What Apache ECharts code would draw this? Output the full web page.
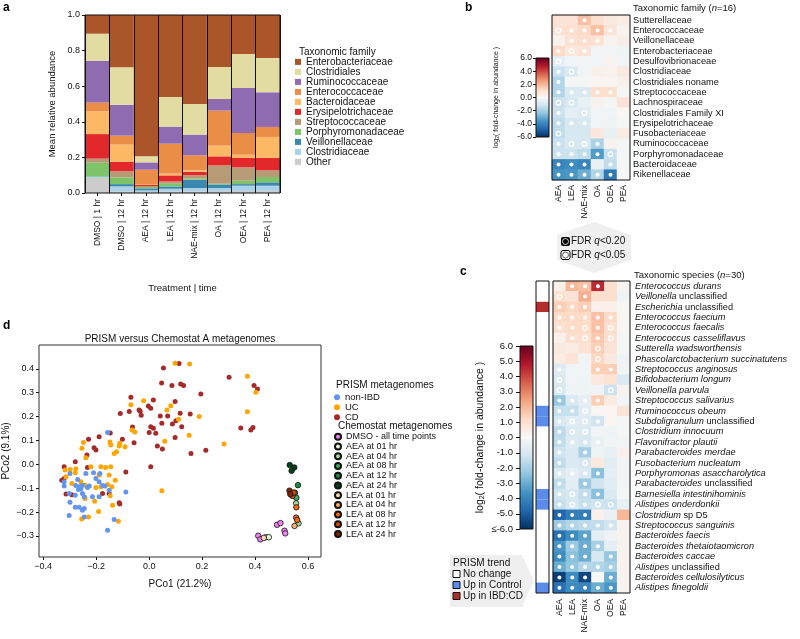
<!DOCTYPE html>
<html><head><meta charset="utf-8">
<script src="https://cdn.jsdelivr.net/npm/echarts@6/dist/echarts.min.js"></script>
<style>html,body{margin:0;padding:0;background:#fff}#c{width:800px;height:639px}</style>
</head><body><div id="c"></div>
<script>
const FONT = '"Liberation Sans", Arial, Helvetica, sans-serif';

// ---------- Panel a data ----------
const aCategories = ['DMSO | 1 hr','DMSO | 12 hr','AEA | 12 hr','LEA | 12 hr','NAE-mix | 12 hr','OA | 12 hr','OEA | 12 hr','PEA | 12 hr'];
const aFamilies = ['Enterobacteriaceae','Clostridiales','Ruminococcaceae','Enterococcaceae','Bacteroidaceae','Erysipelotrichaceae','Streptococcaceae','Porphyromonadaceae','Veillonellaceae','Clostridiaceae','Other'];
const aEnterobacteriaceae = [0.105,0.294,0.794,0.461,0.500,0.292,0.219,0.242];
const aClostridiales      = [0.152,0.210,0.034,0.166,0.172,0.180,0.191,0.192];
const aRuminococcaceae    = [0.234,0.174,0.041,0.096,0.116,0.065,0.253,0.195];
const aEnterococcaceae    = [0.050,0.050,0.084,0.168,0.084,0.197,0.122,0.056];
const aBacteroidaceae     = [0.128,0.096,0.002,0.010,0.008,0.060,0.018,0.118];
const aErysipelotrichaceae= [0.138,0.054,0.008,0.034,0.020,0.051,0.053,0.070];
const aStreptococcaceae   = [0.023,0.034,0.003,0.013,0.020,0.103,0.075,0.037];
const aPorphyromonadaceae = [0.078,0.038,0.008,0.015,0.005,0.004,0.019,0.030];
const aVeillonellaceae    = [0.002,0.013,0.011,0.013,0.047,0.020,0.009,0.019];
const aClostridiaceae     = [0.005,0.027,0.010,0.014,0.018,0.016,0.029,0.029];
const aOther              = [0.085,0.010,0.005,0.010,0.010,0.012,0.012,0.012];
const aColors = ['#ab552b','#e2dca2','#8f6bb2','#ea8e47','#fdb866','#e3282c','#b79a76','#7cc467','#3a88ad','#a9d1e9','#cccccc'];

// ---------- Panel b data ----------
const bColumns = ['AEA','LEA','NAE-mix','OA','OEA','PEA'];
const bFamilies = ['Sutterellaceae','Enterococcaceae','Veillonellaceae','Enterobacteriaceae','Desulfovibrionaceae','Clostridiaceae','Clostridiales noname','Streptococcaceae','Lachnospiraceae','Clostridiales Family XI','Erysipelotrichaceae','Fusobacteriaceae','Ruminococcaceae','Porphyromonadaceae','Bacteroidaceae','Rikenellaceae'];
const bFoldChange = [
 [0.8,0.8,1.8,1.0,0.6,0.5],
 [0.8,1.0,1.2,1.8,0.8,0.2],
 [0.2,0.9,1.1,0.9,0.2,0.4],
 [1.2,0.7,0.8,-0.2,-0.2,-0.3],
 [-0.6,-0.2,-0.2,-0.2,0.2,-0.2],
 [-1.3,-0.9,-0.2,0.3,0.2,0.6],
 [-1.8,-0.1,-0.1,0.1,0.1,0.3],
 [-1.8,-0.9,-0.9,1.0,1.0,-0.1],
 [-1.3,-1.0,-0.5,0.2,-0.1,0.8],
 [-1.3,-0.6,-0.8,-0.2,-0.2,0.1],
 [-1.5,-1.0,-1.0,-0.2,-0.3,-0.1],
 [-1.5,-1.0,-1.0,0.7,-0.5,0.5],
 [-1.3,-1.0,-1.0,-1.9,0.2,-0.1],
 [-1.3,-1.3,-1.5,-3.4,-1.4,-0.1],
 [-4.0,-3.8,-4.0,-0.4,-1.5,-0.1],
 [-3.6,-3.5,-3.0,-1.8,-4.3,0.0]
];
// 1 = FDR q<0.20 (filled dot), 2 = FDR q<0.05 (ring)
const bSignificance = [
 [0,0,1,0,0,0],[2,1,1,1,1,0],[0,1,1,1,0,0],[1,2,1,0,0,0],
 [2,0,0,0,0,0],[1,2,0,0,0,0],[1,0,0,0,0,0],[1,1,1,1,1,0],
 [2,2,0,0,0,0],[1,0,2,0,0,0],[1,1,1,0,0,0],[2,0,0,0,0,0],
 [1,2,2,1,0,0],[1,1,1,1,2,0],[1,1,1,0,1,0],[1,1,1,1,1,0]
];

// ---------- Panel c data ----------
const cSpecies = ['Enterococcus durans','Veillonella unclassified','Escherichia unclassified','Enterococcus faecium','Enterococcus faecalis','Enterococcus casseliflavus','Sutterella wadsworthensis','Phascolarctobacterium succinatutens','Streptococcus anginosus','Bifidobacterium longum','Veillonella parvula','Streptococcus salivarius','Ruminococcus obeum','Subdoligranulum unclassified','Clostridium innocuum','Flavonifractor plautii','Parabacteroides merdae','Fusobacterium nucleatum','Porphyromonas asaccharolytica','Parabacteroides unclassified','Barnesiella intestinihominis','Alistipes onderdonkii','Clostridium sp D5','Streptococcus sanguinis','Bacteroides faecis','Bacteroides thetaiotaomicron','Bacteroides caccae','Alistipes unclassified','Bacteroides cellulosilyticus','Alistipes finegoldii'];
const cFoldChange = [
 [0.3,2.0,1.8,4.5,1.0,0.2],
 [1.0,0.8,2.2,1.0,1.0,-0.3],
 [1.5,1.3,1.5,0.3,0.3,0.1],
 [1.2,1.2,1.2,1.8,1.2,0.1],
 [1.0,1.2,1.2,1.8,1.0,0.1],
 [0.3,1.0,1.0,1.6,1.0,-0.1],
 [0.6,0.5,0.9,1.5,0.8,-0.1],
 [0.5,0.8,-0.2,1.3,0.6,-0.3],
 [-0.8,-0.2,-0.2,1.5,1.5,-0.2],
 [-0.9,-0.2,-0.3,0.6,0.9,-0.9],
 [-0.9,-0.3,-0.3,-0.2,-1.3,0.2],
 [-2.3,-0.9,-0.6,1.5,0.5,-0.2],
 [-1.4,-1.4,-0.7,0.1,0.1,0.8],
 [-1.0,-0.7,-0.8,-1.2,0.1,-0.1],
 [-1.6,-0.9,-0.9,-0.2,-0.3,-0.1],
 [-1.5,-0.8,-1.0,-0.4,-0.2,-0.2],
 [-1.2,-0.9,-2.0,-0.3,-0.5,0.3],
 [-1.5,-0.9,-1.0,0.6,-0.7,-0.2],
 [-0.9,-0.6,-0.9,-2.5,-0.6,-0.2],
 [-1.5,-0.6,-2.2,-1.2,-0.7,-0.2],
 [-1.2,-1.0,-1.5,-2.5,-0.9,-0.1],
 [-1.4,-1.0,-1.4,-1.2,-1.3,-0.5],
 [-4.8,-4.2,-4.2,0.3,-0.4,2.0],
 [-2.2,-1.8,-1.6,-1.5,-1.2,0.2],
 [-4.5,-3.8,-3.2,-0.6,-0.3,0.2],
 [-3.5,-2.2,-3.0,-2.0,-0.6,0.2],
 [-3.8,-2.5,-3.0,-1.0,-2.3,0.2],
 [-3.0,-2.4,-1.8,-1.8,-2.0,0.2],
 [-5.7,-3.8,-5.5,0.0,-3.0,0.2],
 [-4.5,-3.8,-4.0,-3.0,-3.5,0.2]
];
const cSignificance = [
 [0,1,1,1,0,0],[2,0,1,0,0,0],[1,1,1,0,0,0],[1,1,1,1,1,0],[1,1,2,1,2,0],
 [0,1,2,1,2,0],[0,0,0,2,0,0],[0,0,0,2,0,0],[1,0,0,1,1,0],[2,0,0,0,0,0],
 [2,0,0,0,2,0],[1,1,1,1,0,0],[1,1,2,0,0,0],[1,2,2,1,0,0],[1,2,2,0,0,0],
 [1,1,1,1,0,0],[1,0,1,0,0,0],[1,0,2,0,0,0],[1,1,1,1,0,0],[1,0,1,0,0,0],
 [1,2,1,1,0,0],[1,2,1,2,2,0],[1,1,1,0,0,0],[1,1,1,1,1,0],[1,1,1,0,0,0],
 [1,1,1,1,0,0],[1,1,1,0,1,0],[1,1,1,1,1,0],[1,1,1,0,1,0],[1,1,1,1,1,0]
];
// 0 = No change, 1 = Up in Control, 2 = Up in IBD:CD
const cTrend = [0,0,2,0,0,0,0,0,0,0,0,0,1,1,0,0,0,0,0,0,1,1,0,0,0,0,0,0,0,1];
const trendNames = ['No change','Up in Control','Up in IBD:CD'];
const trendColors = ['#ffffff','#5b8cec','#b32d2d'];

// ---------- Panel d data (PCo1, PCo2) ----------
const dNonIBD = [[-0.157,0.133],[-0.299,-0.038],[-0.270,-0.063],[-0.239,-0.038],[-0.210,-0.035],[-0.186,-0.038],[-0.201,-0.059],[-0.321,-0.073],[-0.321,-0.091],[-0.277,-0.088],[-0.264,-0.094],[-0.258,-0.102],[-0.252,-0.087],[-0.233,-0.097],[-0.226,-0.091],[-0.176,-0.088],[-0.167,-0.091],[-0.151,-0.108],[-0.302,-0.122],[-0.279,-0.129],[-0.252,-0.122],[-0.245,-0.136],[-0.214,-0.136],[-0.189,-0.136],[-0.299,-0.159],[-0.279,-0.180],[-0.264,-0.180],[-0.252,-0.192],[-0.245,-0.185],[-0.302,-0.214],[-0.245,-0.220],[-0.132,-0.231],[-0.157,-0.276],[-0.088,-0.116],[-0.267,-0.105],[-0.189,-0.073]];
const dUC = [[0.098,0.424],[0.153,0.420],[0.371,0.369],[0.403,0.302],[0.371,0.220],[-0.021,0.267],[-0.069,0.250],[0.082,0.246],[0.067,0.228],[0.111,0.189],[0.189,0.200],[-0.065,0.144],[-0.054,0.136],[-0.091,0.074],[-0.113,0.077],[-0.132,0.046],[-0.123,0.053],[-0.148,0.094],[-0.145,0.081],[-0.111,0.088],[0.059,0.097],[0.151,0.122],[0.283,0.085],[-0.248,0.092],[-0.254,0.067],[-0.239,0.028],[-0.277,-0.018],[-0.220,-0.010],[-0.182,-0.010],[-0.164,-0.013],[-0.145,-0.010],[-0.189,-0.045],[-0.151,-0.045],[-0.128,-0.066],[-0.317,-0.024],[-0.298,-0.021],[-0.279,-0.035],[-0.314,-0.052],[-0.292,-0.080],[-0.258,-0.073],[-0.201,-0.097],[-0.182,-0.094],[-0.157,-0.084],[-0.141,-0.094],[-0.206,-0.154],[-0.147,-0.131],[-0.138,-0.171],[-0.191,-0.197],[-0.229,-0.220],[-0.255,-0.229],[-0.116,-0.238],[0.048,-0.110],[-0.242,-0.087],[-0.242,-0.143]];
const dCD = [[0.113,0.422],[0.054,0.404],[0.047,0.341],[0.086,0.330],[0.119,0.337],[0.130,0.330],[0.302,0.365],[0.396,0.330],[0.409,0.316],[0.195,0.295],[-0.069,0.281],[0.016,0.270],[-0.003,0.245],[0.006,0.235],[-0.038,0.228],[-0.034,0.222],[-0.030,0.206],[-0.075,0.221],[-0.109,0.213],[0.098,0.263],[0.042,0.203],[0.070,0.203],[0.117,0.214],[0.155,0.211],[0.101,0.183],[0.123,0.158],[0.048,0.172],[0.088,0.169],[0.346,0.152],[0.384,0.144],[0.392,0.154],[0.006,0.158],[0.016,0.151],[0.000,0.134],[0.025,0.130],[-0.063,0.157],[-0.147,0.131],[-0.189,0.116],[-0.229,0.105],[-0.101,0.105],[-0.057,0.091],[0.098,0.113],[0.031,0.077],[0.050,0.064],[0.214,0.059],[0.158,0.046],[-0.208,0.070],[-0.201,0.060],[-0.235,0.039],[-0.279,0.011],[-0.233,-0.013],[-0.088,-0.032],[0.006,-0.010],[-0.321,-0.010],[-0.330,-0.066],[-0.321,-0.059],[-0.151,-0.122],[-0.176,-0.122],[-0.113,-0.161],[-0.111,-0.166],[-0.314,-0.124],[-0.292,-0.127]];
const dDMSO  = [[0.483,-0.253],[0.496,-0.246],[0.412,-0.299],[0.420,-0.314],[0.511,-0.278],[0.514,-0.289]];
const dAEA01 = [[0.441,-0.305],[0.452,-0.305]];
const dAEA04 = [[0.555,-0.163],[0.564,-0.247]];
const dAEA08 = [[0.551,-0.119],[0.556,-0.140]];
const dAEA12 = [[0.562,-0.087]];
const dAEA24 = [[0.531,-0.003],[0.548,-0.013],[0.538,-0.027]];
const dLEA01 = [[0.433,-0.308]];
const dLEA04 = [[0.549,-0.258]];
const dLEA08 = [[0.556,-0.180],[0.555,-0.223],[0.559,-0.233]];
const dLEA12 = [[0.541,-0.132],[0.546,-0.118]];
const dLEA24 = [[0.530,-0.110],[0.533,-0.125]];
const dPrismNames = ['non-IBD','UC','CD'];
const dPrismColors = ['#6495ed','#ffa500','#a52a2a'];
const dChemoNames = ['DMSO - all time points','AEA at 01 hr','AEA at 04 hr','AEA at 08 hr','AEA at 12 hr','AEA at 24 hr','LEA at 01 hr','LEA at 04 hr','LEA at 08 hr','LEA at 12 hr','LEA at 24 hr'];
const dChemoColors = ['#ee82ee','#e5f5e0','#a1d99b','#41ab5d','#238b45','#00441b','#fdd9b4','#fdae6b','#f16913','#d94801','#7f2704'];
const dXTicks = [-0.4,-0.2,0,0.2,0.4,0.6];
const dYTicks = [-0.3,-0.2,-0.1,0,0.1,0.2,0.3,0.4];

const RDBU = ['#053061','#2166ac','#4393c3','#92c5de','#d1e5f0','#f7f7f7','#fddbc7','#f4a582','#d6604d','#b2182b','#67001f'];

// ---------- build ----------
const chart = echarts.init(document.getElementById('c'));
const aSeriesData = [aEnterobacteriaceae,aClostridiales,aRuminococcaceae,aEnterococcaceae,aBacteroidaceae,aErysipelotrichaceae,aStreptococcaceae,aPorphyromonadaceae,aVeillonellaceae,aClostridiaceae,aOther];

function toCells(m){const o=[];m.forEach((row,r)=>row.forEach((v,c)=>o.push([c,r,v])));return o;}
function sigPts(m,l){const o=[];m.forEach((row,r)=>row.forEach((s,c)=>{if(s===l)o.push([c,r]);}));return o;}
function speciesLabel(s){const m=s.match(/^(.*?) (unclassified|sp D5)$/);if(m)return '{i|'+m[1]+'} {r|'+m[2]+'}';return '{i|'+s+'}';}

const series = [];
for (let k = aFamilies.length-1; k >= 0; k--) {
  series.push({name:aFamilies[k], type:'bar', stack:'a', xAxisIndex:0, yAxisIndex:0, data:aSeriesData[k],
    barCategoryGap:'0%', itemStyle:{color:aColors[k]}, emphasis:{disabled:true}});
}
const heatB = series.length;
series.push({type:'heatmap', xAxisIndex:1, yAxisIndex:1, data:toCells(bFoldChange), emphasis:{disabled:true}});
series.push({type:'scatter', xAxisIndex:1, yAxisIndex:1, data:sigPts(bSignificance,1), symbolSize:4, itemStyle:{color:'#fff', opacity:1}, z:5, silent:true});
series.push({type:'scatter', xAxisIndex:1, yAxisIndex:1, data:sigPts(bSignificance,2), symbolSize:4.5, itemStyle:{color:'rgba(0,0,0,0)', borderColor:'#fff', borderWidth:1.2, opacity:1}, z:5, silent:true});
function gradPos(){return new echarts.graphic.LinearGradient(0,0,0,1,[{offset:0,color:RDBU[10]},{offset:0.2,color:RDBU[9]},{offset:0.4,color:RDBU[8]},{offset:0.6,color:RDBU[7]},{offset:0.8,color:RDBU[6]},{offset:1,color:RDBU[5]}]);}
function gradNeg(){return new echarts.graphic.LinearGradient(0,0,0,1,[{offset:0,color:RDBU[5]},{offset:0.2,color:RDBU[4]},{offset:0.4,color:RDBU[3]},{offset:0.6,color:RDBU[2]},{offset:0.8,color:RDBU[1]},{offset:1,color:RDBU[0]}]);}
series.push({type:'bar', stack:'cb1', xAxisIndex:2, yAxisIndex:2, data:[6], barWidth:'100%', itemStyle:{color:gradPos()}, silent:true});
series.push({type:'bar', stack:'cb1', xAxisIndex:2, yAxisIndex:2, data:[-6], barWidth:'100%', itemStyle:{color:gradNeg()}, silent:true});
const heatC = series.length;
series.push({type:'heatmap', xAxisIndex:3, yAxisIndex:3, data:toCells(cFoldChange), emphasis:{disabled:true}});
series.push({type:'scatter', xAxisIndex:3, yAxisIndex:3, data:sigPts(cSignificance,1), symbolSize:4, itemStyle:{color:'#fff', opacity:1}, z:5, silent:true});
series.push({type:'scatter', xAxisIndex:3, yAxisIndex:3, data:sigPts(cSignificance,2), symbolSize:4.5, itemStyle:{color:'rgba(0,0,0,0)', borderColor:'#fff', borderWidth:1.2, opacity:1}, z:5, silent:true});
series.push({type:'bar', xAxisIndex:4, yAxisIndex:4, barWidth:'100%', silent:true,
  data:cTrend.map(t=>({value:1, itemStyle:{color:trendColors[t]}}))});
series.push({type:'bar', stack:'cb2', xAxisIndex:5, yAxisIndex:5, data:[6], barWidth:'100%', itemStyle:{color:gradPos()}, silent:true});
series.push({type:'bar', stack:'cb2', xAxisIndex:5, yAxisIndex:5, data:[-6], barWidth:'100%', itemStyle:{color:gradNeg()}, silent:true});
const dPrismData = [dNonIBD, dUC, dCD];
[2,1,0].forEach(i=>series.push({name:dPrismNames[i], type:'scatter', xAxisIndex:6, yAxisIndex:6, data:dPrismData[i], symbolSize:5, itemStyle:{color:dPrismColors[i], opacity:1}}));
const dChemoData = [dDMSO,dAEA01,dAEA04,dAEA08,dAEA12,dAEA24,dLEA01,dLEA04,dLEA08,dLEA12,dLEA24];
dChemoData.forEach((d,i)=>series.push({name:dChemoNames[i], type:'scatter', xAxisIndex:6, yAxisIndex:6, data:d, symbolSize:5.5, itemStyle:{color:dChemoColors[i], borderColor:'#111', borderWidth:0.8, opacity:1}}));

const frame = {show:true, borderColor:'#111', borderWidth:1, backgroundColor:'transparent', z:10};
const tickStyle = {lineStyle:{color:'#111', width:1}};
const lbl = {color:'#111', fontFamily:FONT};

const option = {
  animation:false,
  textStyle:{fontFamily:FONT, color:'#111'},
  grid:[
    Object.assign({left:85, top:15, width:195, height:178}, frame),
    Object.assign({left:552, top:15, width:78, height:165}, frame),
    Object.assign({left:536, top:58, width:13, height:79}, frame),
    Object.assign({left:553, top:281, width:77, height:312}, frame),
    Object.assign({left:536, top:281, width:13, height:312}, frame),
    Object.assign({left:520, top:346, width:13, height:183}, frame),
    Object.assign({left:39, top:345, width:282, height:212}, frame, {borderColor:'#333'})
  ],
  visualMap:{type:'continuous', min:-6, max:6, show:false, seriesIndex:[heatB, heatC], inRange:{color:RDBU}},
  xAxis:[
    {gridIndex:0, type:'category', data:aCategories, z:10, axisLine:{show:false, onZero:false},
      axisTick:Object.assign({show:true, alignWithLabel:true, length:3}, tickStyle),
      splitLine:{show:true, lineStyle:{color:'#111', width:1}},
      axisLabel:Object.assign({rotate:90, fontSize:8.5, margin:6, interval:0}, lbl),
      name:'Treatment | time', nameLocation:'middle', nameGap:90, nameTextStyle:Object.assign({fontSize:9.5}, lbl)},
    {gridIndex:1, type:'category', data:bColumns, axisLine:{show:false}, axisTick:{show:false},
      axisLabel:Object.assign({rotate:90, fontSize:8.5, margin:5, interval:0}, lbl)},
    {gridIndex:2, type:'category', data:['cb'], show:false},
    {gridIndex:3, type:'category', data:bColumns, axisLine:{show:false}, axisTick:{show:false},
      axisLabel:Object.assign({rotate:90, fontSize:8.5, margin:6, interval:0}, lbl)},
    {gridIndex:4, type:'value', min:0, max:1, show:false},
    {gridIndex:5, type:'category', data:['cb'], show:false},
    {gridIndex:6, type:'value', min:-0.416, max:0.649, axisLine:{show:false, onZero:false}, splitLine:{show:false},
      axisTick:Object.assign({show:true, length:3, customValues:dXTicks}, tickStyle),
      axisLabel:Object.assign({fontSize:9, margin:5, customValues:dXTicks, formatter:v=>(v<0?'\u2212':'')+Math.abs(v).toFixed(1)}, lbl),
      name:'PCo1 (21.2%)', nameLocation:'middle', nameGap:22, nameTextStyle:Object.assign({fontSize:10}, lbl)}
  ],
  yAxis:[
    {gridIndex:0, type:'value', min:0, max:1, interval:0.2, z:10, axisLine:{show:false, onZero:false}, splitLine:{show:false},
      axisTick:Object.assign({show:true, length:3}, tickStyle),
      axisLabel:Object.assign({fontSize:9, margin:5, formatter:v=>v.toFixed(1)}, lbl),
      name:'Mean relative abundance', nameLocation:'middle', nameGap:28, nameTextStyle:Object.assign({fontSize:9.5}, lbl)},
    {gridIndex:1, type:'category', data:bFamilies, inverse:true, position:'right', axisLine:{show:false}, axisTick:{show:false},
      axisLabel:Object.assign({fontSize:9.2, margin:3, interval:0}, lbl)},
    {gridIndex:2, type:'value', min:-6, max:6, interval:2, position:'left', axisLine:{show:false, onZero:false}, splitLine:{show:false},
      axisTick:Object.assign({show:true, length:3}, tickStyle),
      axisLabel:Object.assign({fontSize:8.5, margin:4, formatter:v=>v.toFixed(1)}, lbl),
      name:'{n|log}{s|2}{n|( fold-change in abundance )}', nameLocation:'middle', nameGap:36,
      nameTextStyle:{rich:{n:{fontSize:7, fontFamily:FONT, color:'#111'}, s:{fontSize:5, fontFamily:FONT, color:'#111', verticalAlign:'bottom', padding:[3,0,0,0]}}}},
    {gridIndex:3, type:'category', data:cSpecies, inverse:true, position:'right', axisLine:{show:false}, axisTick:{show:false},
      axisLabel:Object.assign({fontSize:9.2, margin:5, interval:0, formatter:v=>speciesLabel(v),
        rich:{i:{fontStyle:'italic', fontSize:9.2, fontFamily:FONT, color:'#111'}, r:{fontSize:9.2, fontFamily:FONT, color:'#111'}}}, lbl)},
    {gridIndex:4, type:'category', data:cSpecies, inverse:true, show:false},
    {gridIndex:5, type:'value', min:-6, max:6, interval:1, position:'left', axisLine:{show:false, onZero:false}, splitLine:{show:false},
      axisTick:Object.assign({show:true, length:4}, tickStyle),
      axisLabel:Object.assign({fontSize:9.5, margin:7, formatter:v=>v===-6?'\u2264-6.0':v.toFixed(1)}, lbl),
      name:'{n|log}{s|2}{n|( fold-change in abundance )}', nameLocation:'middle', nameGap:34,
      nameTextStyle:{rich:{n:{fontSize:10.5, fontFamily:FONT, color:'#111'}, s:{fontSize:7, fontFamily:FONT, color:'#111', verticalAlign:'bottom', padding:[4,0,0,0]}}}},
    {gridIndex:6, type:'value', min:-0.388, max:0.5, axisLine:{show:false, onZero:false}, splitLine:{show:false},
      axisTick:Object.assign({show:true, length:3, customValues:dYTicks}, tickStyle),
      axisLabel:Object.assign({fontSize:9, margin:5, customValues:dYTicks, formatter:v=>(v<0?'\u2212':'')+Math.abs(v).toFixed(1)}, lbl),
      name:'PCo2 (9.1%)', nameLocation:'middle', nameGap:28, nameTextStyle:Object.assign({fontSize:10}, lbl)}
  ],
  legend:[
    {data:aFamilies, orient:'vertical', left:295, top:56.9, padding:0, itemGap:0, itemWidth:6, itemHeight:6, icon:'rect', selectedMode:false,
      textStyle:{fontSize:10, lineHeight:9.7, color:'#111', fontFamily:FONT}},
    {data:dPrismNames, orient:'vertical', left:334, top:392.2, padding:0, itemGap:0, itemWidth:6, itemHeight:6, icon:'circle', selectedMode:false,
      textStyle:{fontSize:9.5, lineHeight:9, color:'#111', fontFamily:FONT}},
    {data:dChemoNames, orient:'vertical', left:334, top:431.9, padding:0, itemGap:0, itemWidth:6, itemHeight:6, icon:'circle', selectedMode:false,
      textStyle:{fontSize:9, lineHeight:9.73, color:'#111', fontFamily:FONT}}
  ],
  graphic:[
    {type:'text', left:3, top:2, style:{text:'a', fontSize:12, fontWeight:'bold', fontFamily:FONT, fill:'#000'}},
    {type:'text', left:465, top:2, style:{text:'b', fontSize:12, fontWeight:'bold', fontFamily:FONT, fill:'#000'}},
    {type:'text', left:460, top:266, style:{text:'c', fontSize:12, fontWeight:'bold', fontFamily:FONT, fill:'#000'}},
    {type:'text', left:3, top:320, style:{text:'d', fontSize:12, fontWeight:'bold', fontFamily:FONT, fill:'#000'}},
    {type:'text', x:299, y:52, style:{text:'Taxonomic family', fontSize:10, fontFamily:FONT, fill:'#111', verticalAlign:'middle'}},
    {type:'text', x:633, y:8, style:{text:'{r|Taxonomic family (}{i|n}{r|=16)}', verticalAlign:'middle',
      rich:{r:{fontSize:9.5, fontFamily:FONT, fill:'#111'}, i:{fontSize:9.5, fontStyle:'italic', fontFamily:FONT, fill:'#111'}}}},
    {type:'text', x:634, y:275, style:{text:'{r|Taxonomic species (}{i|n}{r|=30)}', verticalAlign:'middle',
      rich:{r:{fontSize:9.5, fontFamily:FONT, fill:'#111'}, i:{fontSize:9.5, fontStyle:'italic', fontFamily:FONT, fill:'#111'}}}},
    {type:'text', x:180, y:339, style:{text:'PRISM versus Chemostat A metagenomes', align:'center', verticalAlign:'middle', fontSize:10, fontFamily:FONT, fill:'#111'}},
    {type:'text', x:336, y:385, style:{text:'PRISM metagenomes', verticalAlign:'middle', fontSize:10, fontFamily:FONT, fill:'#111'}},
    {type:'text', x:338, y:426, style:{text:'Chemostat metagenomes', verticalAlign:'middle', fontSize:10, fontFamily:FONT, fill:'#111'}},
    // FDR legend
    {type:'polygon', z:-1, shape:{points:[[557,235],[594,222],[631,235],[631,260],[594,273],[557,260]]}, style:{fill:'#efefef'}},
    {type:'rect', shape:{x:561,y:237,width:9,height:9,r:2}, style:{fill:'#000'}},
    {type:'circle', shape:{cx:565.5,cy:241.5,r:3}, style:{fill:'#000', stroke:'#fff', lineWidth:0.8}},
    {type:'text', x:571, y:241.7, style:{text:'{r|FDR }{i|q}{r|<0.20}', verticalAlign:'middle',
      rich:{r:{fontSize:10, fontFamily:FONT, fill:'#111'}, i:{fontSize:10, fontStyle:'italic', fontFamily:FONT, fill:'#111'}}}},
    {type:'rect', shape:{x:561,y:250.5,width:9,height:9,r:2}, style:{fill:'#fff', stroke:'#000', lineWidth:1}},
    {type:'circle', shape:{cx:565.5,cy:255,r:3}, style:{fill:'#fff', stroke:'#000', lineWidth:0.6}},
    {type:'text', x:571, y:255, style:{text:'{r|FDR }{i|q}{r|<0.05}', verticalAlign:'middle',
      rich:{r:{fontSize:10, fontFamily:FONT, fill:'#111'}, i:{fontSize:10, fontStyle:'italic', fontFamily:FONT, fill:'#111'}}}},
    // PRISM trend legend
    {type:'polygon', z:-1, shape:{points:[[450,555],[522,555],[534,581],[522,607],[450,607]]}, style:{fill:'#efefef'}},
    {type:'text', x:453, y:563, style:{text:'PRISM trend', verticalAlign:'middle', fontSize:10, fontFamily:FONT, fill:'#111'}},
    {type:'rect', shape:{x:453,y:570.5,width:7,height:7}, style:{fill:trendColors[0], stroke:'#111', lineWidth:1}},
    {type:'text', x:463, y:574, style:{text:trendNames[0], verticalAlign:'middle', fontSize:10, fontFamily:FONT, fill:'#111'}},
    {type:'rect', shape:{x:453,y:581.5,width:7,height:7}, style:{fill:trendColors[1], stroke:'#111', lineWidth:1}},
    {type:'text', x:463, y:585, style:{text:trendNames[1], verticalAlign:'middle', fontSize:10, fontFamily:FONT, fill:'#111'}},
    {type:'rect', shape:{x:453,y:592.5,width:7,height:7}, style:{fill:trendColors[2], stroke:'#111', lineWidth:1}},
    {type:'text', x:463, y:596, style:{text:trendNames[2], verticalAlign:'middle', fontSize:10, fontFamily:FONT, fill:'#111'}}
  ],
  series:series
};
chart.setOption(option);
</script></body></html>
